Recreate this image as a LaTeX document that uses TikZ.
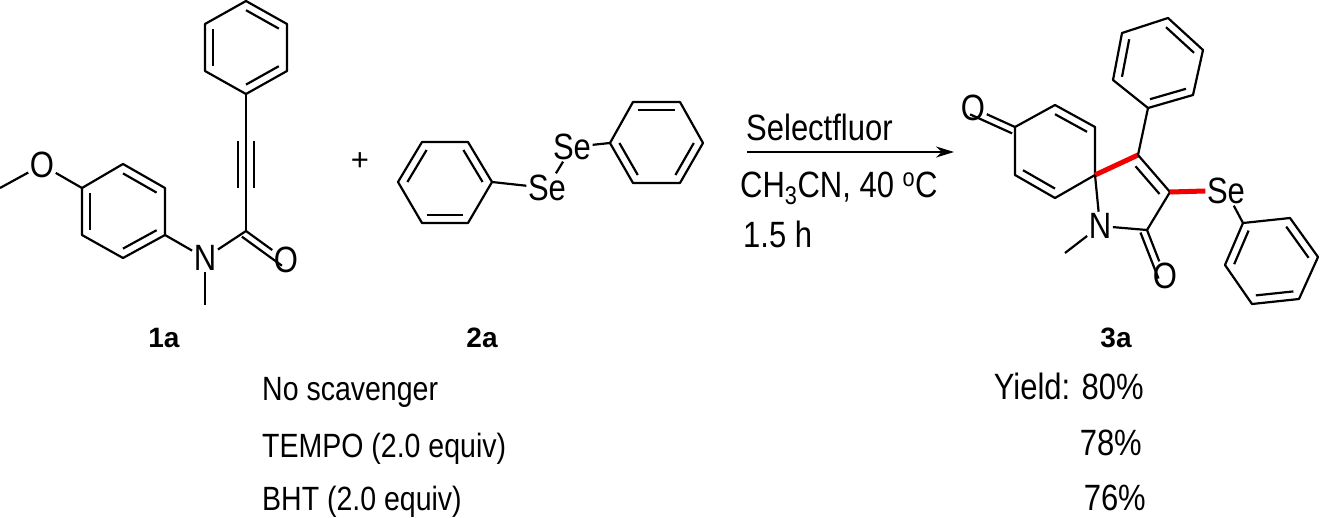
\documentclass[tikz,border=0pt]{standalone}
\usepackage{fontspec}
\setmainfont{Liberation Sans}
\usetikzlibrary{calc,arrows.meta}
\newcommand{\tl}[1]{\scalebox{1}[1.18]{#1}}
\tikzset{
  bond/.style={line width=2.2pt},
  rbond/.style={line width=5pt,red!95!black},
  atom/.style={inner sep=1.5pt,font=\fontsize{31}{34}\selectfont},
  txt/.style={inner sep=0pt,font=\fontsize{28.5}{32}\selectfont},
  cond/.style={inner sep=0pt,font=\fontsize{31}{36}\selectfont},
  lbl/.style={inner sep=0pt,font=\fontsize{28}{32}\selectfont\bfseries},
}
\newcommand{\dbl}[3]{\draw[bond] ($(#1)!0.2!(#3)$) -- ($(#2)!0.2!(#3)$);}
\newcommand{\hexa}[6]{\draw[bond,line join=round] (#1)--(#2)--(#3)--(#4)--(#5)--(#6)--cycle;}
\begin{document}
\begin{tikzpicture}[x=1pt,y=-1pt]
\useasboundingbox (0,0) rectangle (1320,517);
% ---------- 1a ----------
\coordinate (a1) at (246,1); \coordinate (a2) at (287,24); \coordinate (a3) at (287,71);
\coordinate (a4) at (246,94); \coordinate (a5) at (205,71); \coordinate (a6) at (205,24);
\coordinate (ca) at (246,47);
\hexa{a1}{a2}{a3}{a4}{a5}{a6}
\dbl{a1}{a2}{ca}\dbl{a3}{a4}{ca}\dbl{a5}{a6}{ca}
\coordinate (co) at (246,231);
\draw[bond] (a4) -- (co);
\draw[bond] (238,141) -- (238,188);
\draw[bond] (254,141) -- (254,188);
\node[atom] (O1) at (286,260) {\tl{O}};
\node[atom] (N1) at (205,258) {\tl{N}};
\coordinate (me1) at (205,305);
\draw[bond] (co) -- (O1);
\draw[bond] ($(co)!7pt!-90:(O1)$) -- ($(O1)!7pt!90:(co)$);
\draw[bond] (co) -- (N1);
\draw[bond] (N1) -- (me1);
\coordinate (b1) at (165,235); \coordinate (b2) at (165,188); \coordinate (b3) at (123,164);
\coordinate (b4) at (82,188); \coordinate (b5) at (82,235); \coordinate (b6) at (123,258);
\coordinate (cb) at (123,211);
\hexa{b1}{b2}{b3}{b4}{b5}{b6}
\dbl{b2}{b3}{cb}\dbl{b4}{b5}{cb}\dbl{b6}{b1}{cb}
\draw[bond] (b1) -- (N1);
\node[atom] (O2) at (42,165) {\tl{O}};
\coordinate (me2) at (0,188);
\draw[bond] (b4) -- (O2);
\draw[bond] (O2) -- (me2);
\node[lbl,anchor=base] (L1) at (164,347) {1a};
% ---------- plus ----------
\node[cond] (plus) at (360,162) {+};
% ---------- 2a ----------
\coordinate (d1) at (422,142); \coordinate (d2) at (468,142); \coordinate (d3) at (492,182);
\coordinate (d4) at (468,223); \coordinate (d5) at (422,223); \coordinate (d6) at (398,182);
\coordinate (cd) at (445,182);
\hexa{d1}{d2}{d3}{d4}{d5}{d6}
\dbl{d2}{d3}{cd}\dbl{d4}{d5}{cd}\dbl{d6}{d1}{cd}
\node[atom] (Se1) at (547,188) {\tl{Se}};
\node[atom] (Se2) at (572,147) {\tl{Se}};
\draw[bond] (d3) -- (Se1);
\draw[bond] (Se1) -- (Se2);
\coordinate (e1) at (610,143); \coordinate (e2) at (633,102); \coordinate (e3) at (680,102);
\coordinate (e4) at (703,143); \coordinate (e5) at (680,183); \coordinate (e6) at (633,183);
\coordinate (ce) at (657,143);
\hexa{e1}{e2}{e3}{e4}{e5}{e6}
\dbl{e2}{e3}{ce}\dbl{e4}{e5}{ce}\dbl{e6}{e1}{ce}
\draw[bond] (Se2) -- (e1);
\node[lbl,anchor=base] (L2) at (482,347) {2a};
% ---------- arrow ----------
\coordinate (ar1) at (747,152); \coordinate (ar2) at (954,152);
\draw[line width=2pt,-{Stealth[length=18pt,width=11pt]}] (ar1) -- (ar2);
\node[cond,anchor=base west] (k1) at (746,140) {\tl{Selectfluor}};
\node[cond,anchor=base west] (k2) at (740,197) {\tl{CH\textsubscript{3}CN, 40 \textsuperscript{o}C}};
\node[cond,anchor=base west] (k3) at (743,247) {\tl{1.5 h}};
% ---------- 3a ----------
\coordinate (f1) at (1015,127); \coordinate (f2) at (1055,105); \coordinate (f3) at (1095,127);
\coordinate (sp) at (1095,175); \coordinate (f5) at (1055,198); \coordinate (f6) at (1015,175);
\coordinate (cf) at (1055,151);
\hexa{f1}{f2}{f3}{sp}{f5}{f6}
\dbl{f2}{f3}{cf}\dbl{f5}{f6}{cf}
\node[atom] (O3) at (973,108) {\tl{O}};
\draw[bond] (f1) -- (O3);
\draw[bond] ($(f1)!7pt!90:(O3)$) -- ($(O3)!7pt!-90:(f1)$);
\coordinate (c4) at (1138,155); \coordinate (c3) at (1170,192); \coordinate (c2a) at (1147,230);
\coordinate (c5) at (1128,200);
\node[atom] (N3) at (1100,226) {\tl{N}};
\node[atom] (O4) at (1165,276) {\tl{O}};
\coordinate (me3) at (1065,253);
\draw[rbond] (sp) -- (c4);
\draw[bond] (c4) -- (c3);
\draw[bond] ($(c4)!0.25!(c5)$) -- ($(c3)!0.25!(c5)$);
\draw[bond] (c3) -- (c2a);
\draw[bond] (sp) -- (N3);
\draw[bond] (N3) -- (c2a);
\draw[bond] (N3) -- (me3);
\draw[bond] (c2a) -- (O4);
\draw[bond] ($(c2a)!7pt!-90:(O4)$) -- ($(O4)!7pt!90:(c2a)$);
\coordinate (g1) at (1148,108); \coordinate (g2) at (1193,95); \coordinate (g3) at (1203,50);
\coordinate (g4) at (1168,18); \coordinate (g5) at (1122,33); \coordinate (g6) at (1113,80);
\coordinate (cg) at (1158,64);
\hexa{g1}{g2}{g3}{g4}{g5}{g6}
\dbl{g3}{g4}{cg}\dbl{g5}{g6}{cg}\dbl{g1}{g2}{cg}
\draw[bond] (c4) -- (g1);
\node[atom] (Se3) at (1226,191) {\tl{Se}};
\draw[rbond] (c3) -- (Se3.west);
\coordinate (h1) at (1243,223); \coordinate (h2) at (1290,218); \coordinate (h3) at (1318,257);
\coordinate (h4) at (1299,299); \coordinate (h5) at (1252,304); \coordinate (h6) at (1225,265);
\coordinate (ch) at (1271,261);
\hexa{h1}{h2}{h3}{h4}{h5}{h6}
\dbl{h2}{h3}{ch}\dbl{h4}{h5}{ch}\dbl{h6}{h1}{ch}
\draw[bond] (Se3) -- (h1);
\node[lbl,anchor=base] (L3) at (1116,347) {3a};
% ---------- table ----------
\node[txt,anchor=base west] (t1) at (262,400) {\tl{No scavenger}};
\node[txt,anchor=base west] (t2) at (262,457) {\tl{TEMPO (2.0 equiv)}};
\node[txt,anchor=base west] (t3) at (262,510) {\tl{BHT (2.0 equiv)}};
\node[cond,anchor=base east] (y1) at (1144,399) {\tl{Yield: 80\%}};
\node[cond,anchor=base east] (y2) at (1142,455) {\tl{78\%}};
\node[cond,anchor=base east] (y3) at (1146,510) {\tl{76\%}};
\end{tikzpicture}
\end{document}
